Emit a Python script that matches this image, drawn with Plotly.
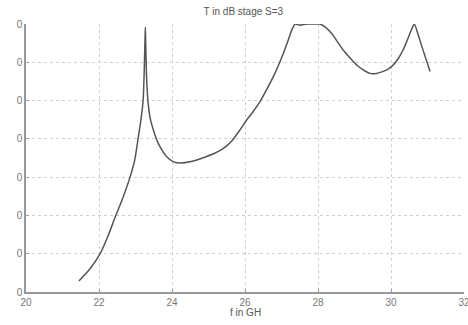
import plotly.graph_objects as go

freq_ghz = [21.45, 21.75, 22.03, 22.25, 22.44, 22.65, 22.85, 22.98, 23.07, 23.15, 23.21, 23.24, 23.26,
            23.27, 23.28, 23.30, 23.34, 23.40, 23.49, 23.58, 23.67, 23.85, 24.04, 24.25, 24.49,
            24.72, 24.95, 25.18, 25.41, 25.65, 25.86, 26.05, 26.23, 26.41, 26.6, 26.78, 26.92,
            27.05, 27.17, 27.28, 27.37, 27.5, 27.69, 27.9, 28.05, 28.2, 28.37, 28.53, 28.69,
            28.88, 29.06, 29.24, 29.42, 29.6, 29.75, 29.9, 30.05, 30.2, 30.33, 30.43, 30.52,
            30.59, 30.64, 30.75, 30.86, 30.97, 31.07]
t_db = [-67.1, -64.0, -60.0, -55.3, -50.5, -45.5, -40.0, -35.5, -30.0, -25.0, -19.8, -12.0, -4.0,
        -0.8, -5.0, -13.0, -20.0, -24.5, -27.7, -30.2, -32.0, -34.6, -36.0, -36.3, -36.0,
        -35.4, -34.6, -33.7, -32.5, -30.4, -27.7, -25.0, -22.8, -20.3, -17.0, -13.7, -10.7,
        -7.7, -4.6, -1.6, 0.0, -0.3, 0.0, 0.0, 0.0, -0.8, -2.4, -4.6, -6.8,
        -8.9, -10.7, -12.0, -12.9, -12.9, -12.5, -11.9, -10.8, -9.0, -6.8, -4.6, -2.4,
        -0.8, 0.0, -3.0, -6.3, -9.5, -12.4]

x_ticks = [20, 22, 24, 26, 28, 30, 32]
x_tick_labels = ["20", "22", "24", "26", "28", "30", "32"]
y_ticks = [0, -10, -20, -30, -40, -50, -60, -70]
y_tick_labels = ["0", "0", "0", "0", "0", "0", "0", "0"]

fig = go.Figure()
fig.add_trace(go.Scatter(x=freq_ghz, y=t_db, mode="lines",
                         line=dict(color="#555555", width=1.5), line_shape="spline",
                         line_smoothing=0.6, showlegend=False))

fig.update_layout(
    width=468, height=325,
    margin=dict(l=26, r=4, t=24, b=33),
    paper_bgcolor="white", plot_bgcolor="white",
    title=dict(text="T in dB stage S=3", x=0.52, xanchor="center", y=0.975, yanchor="top",
               font=dict(family="Liberation Sans", size=10, color="#555555")),
    font=dict(family="Liberation Sans", size=10, color="#777777"),
    annotations=[dict(text="f in GH", xref="paper", yref="paper", x=0.5, y=-0.078,
                      xanchor="center", yanchor="middle", showarrow=False,
                      font=dict(family="Liberation Sans", size=10, color="#555555"))],
)
fig.update_xaxes(range=[20, 32], tickvals=x_ticks, ticktext=x_tick_labels,
                 showgrid=True, gridcolor="#d0d0d0", griddash="dot", gridwidth=1,
                 showline=True, linecolor="#999999", linewidth=1.5,
                 ticks="inside", ticklen=3, tickcolor="#999999", zeroline=False,
                 ticklabeloverflow="allow", automargin=False)
fig.update_yaxes(range=[-70, 0], tickvals=y_ticks, ticktext=y_tick_labels,
                 showgrid=True, gridcolor="#d0d0d0", griddash="dot", gridwidth=1,
                 showline=True, linecolor="#999999", linewidth=1.5,
                 ticks="inside", ticklen=3, tickcolor="#999999", zeroline=False,
                 automargin=False)

fig.write_html("out.html", config={"displayModeBar": False},
               post_script="document.body.style.margin='0';document.body.style.overflow='hidden';")
